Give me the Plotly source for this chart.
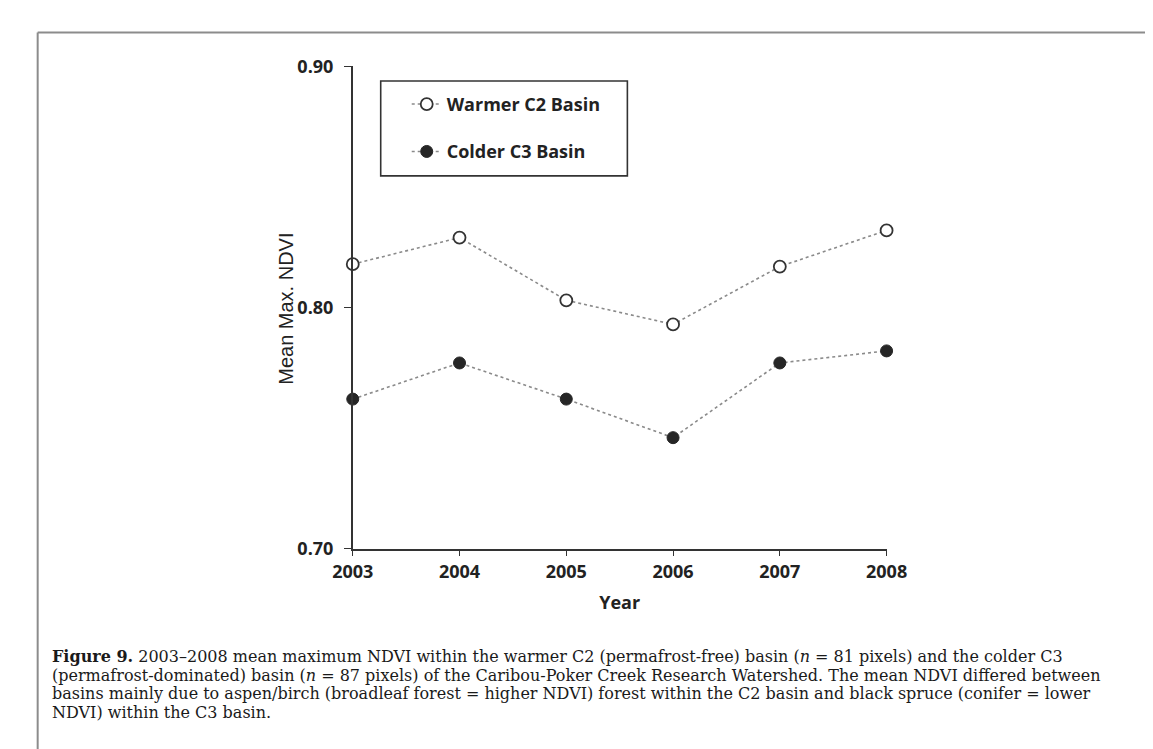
import plotly.graph_objects as go

years = [2003, 2004, 2005, 2006, 2007, 2008]
warmer_c2 = [0.818, 0.829, 0.803, 0.793, 0.817, 0.832]
colder_c3 = [0.762, 0.777, 0.762, 0.746, 0.777, 0.782]
series_names = ["Warmer C2 Basin", "Colder C3 Basin"]
y_ticks = [0.70, 0.80, 0.90]
y_ticktext = ["0.70", "0.80", "0.90"]
caption_lines = [
    "<b>Figure 9.</b> 2003–2008 mean maximum NDVI within the warmer C2 (permafrost-free) basin (<i>n</i> = 81 pixels) and the colder C3",
    "(permafrost-dominated) basin (<i>n</i> = 87 pixels) of the Caribou-Poker Creek Research Watershed. The mean NDVI differed between",
    "basins mainly due to aspen/birch (broadleaf forest = higher NDVI) forest within the C2 basin and black spruce (conifer = lower",
    "NDVI) within the C3 basin.",
]

W, H = 1153, 749
def px(x):
    return x / W
def py(y):
    return 1 - y / H

fig = go.Figure()
fig.add_trace(go.Scatter(
    x=years, y=warmer_c2, name=series_names[0], mode="lines+markers",
    line=dict(color="#8a8a8a", width=1.6, dash="dot"),
    marker=dict(size=12, color="white", line=dict(color="#333333", width=1.8)),
    cliponaxis=False, legendgroup="a",
))
fig.add_trace(go.Scatter(
    x=years, y=colder_c3, name=series_names[1], mode="lines+markers",
    line=dict(color="#8a8a8a", width=1.6, dash="dot"),
    marker=dict(size=12, color="#262626", line=dict(color="#262626", width=1)),
    cliponaxis=False, legendgroup="b",
))

tickfont = dict(family="Open Sans", size=18, color="#222222", weight="bold")

fig.update_layout(
    width=W, height=H,
    margin=dict(l=0, r=0, t=0, b=0),
    paper_bgcolor="white", plot_bgcolor="white",
    showlegend=True,
    legend=dict(
        x=px(392), y=py(67), xanchor="left", yanchor="top",
        font=dict(family="Open Sans", size=18, color="#222222", weight="bold"),
        bgcolor="rgba(0,0,0,0)", borderwidth=0,
        traceorder="grouped", tracegroupgap=21,
    ),
    xaxis=dict(
        domain=[px(336), px(890)], range=[2003, 2008],
        showline=True, linecolor="#333333", linewidth=1.6,
        ticks="outside", ticklen=6, tickwidth=1.4, tickcolor="#333333",
        tickvals=years, ticktext=[str(y) for y in years],
        tickfont=tickfont, showgrid=False, zeroline=False,
        title=dict(text="<b>Year</b>", font=dict(family="Open Sans", size=18, color="#222222"), standoff=14),
    ),
    yaxis=dict(
        domain=[py(545), py(47)], range=[0.70, 0.90],
        showline=True, linecolor="#333333", linewidth=1.6,
        ticks="outside", ticklen=7, tickwidth=1.4, tickcolor="#333333",
        tickvals=y_ticks, ticktext=y_ticktext, ticklabelstandoff=7,
        tickfont=tickfont, showgrid=False, zeroline=False,
    ),
)

# y-axis title
fig.add_annotation(
    xref="paper", yref="paper", x=px(267), y=py(297),
    text="Mean Max. NDVI", textangle=-90, showarrow=False,
    font=dict(family="Liberation Sans", size=20, color="#222222"),
    xanchor="center", yanchor="middle",
)

# legend box
fig.add_shape(type="rect", xref="paper", yref="paper",
              x0=px(365), x1=px(621), y0=py(160), y1=py(62),
              line=dict(color="#333333", width=1.6), fillcolor="rgba(0,0,0,0)", layer="below")

# figure frame (left and top only visible)
fig.add_shape(type="line", xref="paper", yref="paper",
              x0=px(9), x1=px(9), y0=py(12), y1=py(760),
              line=dict(color="#8c8c8c", width=2))
fig.add_shape(type="line", xref="paper", yref="paper",
              x0=px(9), x1=px(1160), y0=py(12), y1=py(12),
              line=dict(color="#8c8c8c", width=2))

# caption
cap_y = [657, 676, 695, 714]
for line, yy in zip(caption_lines, cap_y):
    fig.add_annotation(
        xref="paper", yref="paper", x=px(22), y=py(yy),
        text=line, showarrow=False, xanchor="left", yanchor="middle",
        font=dict(family="DejaVu Serif", size=16, color="#1a1a1a"),
    )

fig.write_html("out.html")
